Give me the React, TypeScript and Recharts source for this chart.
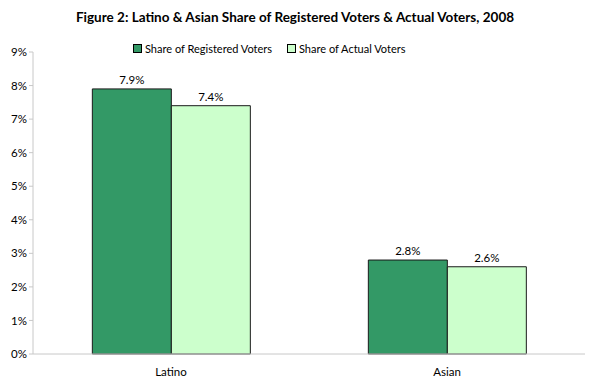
import { BarChart, Bar, XAxis, YAxis, LabelList } from 'recharts';

const groups = ['Latino', 'Asian'];
const registered = [7.9, 2.8];
const actual = [7.4, 2.6];
const seriesNames = ['Share of Registered Voters', 'Share of Actual Voters'];
const seriesColors = ['#339966', '#CCFFCC'];
const yTicks = [0, 1, 2, 3, 4, 5, 6, 7, 8, 9];

const title = 'Figure 2: Latino & Asian Share of Registered Voters & Actual Voters, 2008';
const font = 'Lato, "Open Sans", sans-serif';

export default function App() {
  const data = groups.map((g, i) => ({ name: g, registered: registered[i], actual: actual[i] }));
  const fmt = (v: number) => `${v}%`;
  return (
    <div style={{ position: 'absolute', left: 0, top: 0, width: 590, height: 381, background: '#fff', fontFamily: font }}>
      <div style={{ position: 'absolute', top: 9, width: 590, textAlign: 'center', fontWeight: 700, fontSize: 13.5, color: '#000' }}>
        {title}
      </div>
      <div style={{ position: 'absolute', top: 42, left: 133, display: 'flex', fontSize: 11, color: '#000' }}>
        {seriesNames.map((n, i) => (
          <div key={n} style={{ display: 'flex', alignItems: 'center', width: i === 0 ? 154 : 'auto' }}>
            <span style={{ width: 7, height: 7, background: seriesColors[i], border: '1px solid #000', marginRight: 3 }} />
            {n}
          </div>
        ))}
      </div>
      <BarChart
        width={590}
        height={381}
        data={data}
        margin={{ top: 52, right: 5, bottom: 0, left: 0 }}
        barCategoryGap="21.5%"
        barGap={0}
      >
        <XAxis
          dataKey="name"
          stroke="#c8c8c8"
          tickLine={false}
          height={27}
          tick={{ fill: '#000', fontSize: 11.5, fontFamily: font }}
          tickMargin={8}
        />
        <YAxis
          domain={[0, 9]}
          ticks={yTicks}
          interval={0}
          width={33}
          stroke="#c8c8c8"
          tickSize={4}
          tickFormatter={fmt}
          tick={{ fill: '#000', fontSize: 11.5, fontFamily: font }}
        />
        <Bar dataKey="registered" name={seriesNames[0]} fill={seriesColors[0]} stroke="#1a1a1a" strokeWidth={1} isAnimationActive={false}>
          <LabelList dataKey="registered" position="top" formatter={(v: any) => `${Number(v).toFixed(1)}%`} style={{ fill: '#000', fontSize: 11.5, fontFamily: font }} />
        </Bar>
        <Bar dataKey="actual" name={seriesNames[1]} fill={seriesColors[1]} stroke="#1a1a1a" strokeWidth={1} isAnimationActive={false}>
          <LabelList dataKey="actual" position="top" formatter={(v: any) => `${Number(v).toFixed(1)}%`} style={{ fill: '#000', fontSize: 11.5, fontFamily: font }} />
        </Bar>
      </BarChart>
    </div>
  );
}
